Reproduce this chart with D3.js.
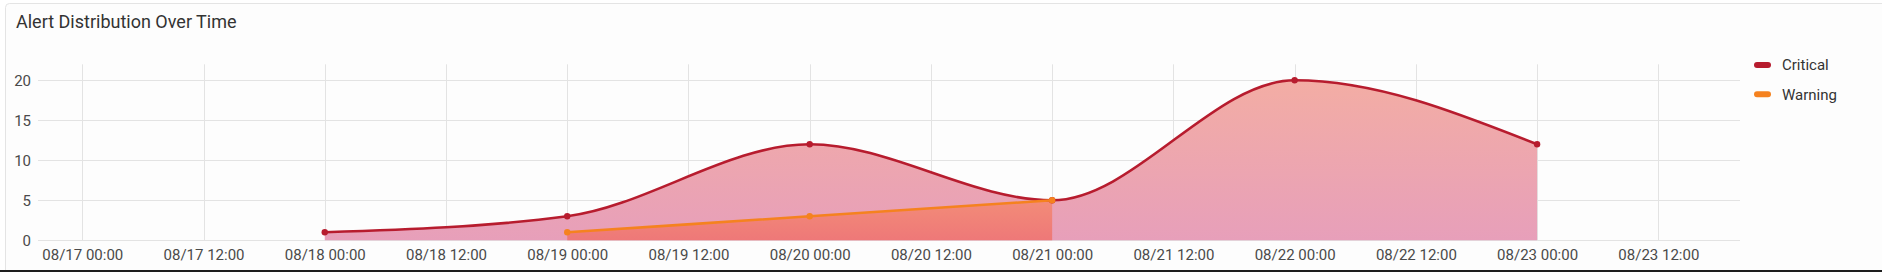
<!DOCTYPE html>
<html>
<head>
<meta charset="utf-8">
<script src="https://cdn.jsdelivr.net/npm/d3@7"></script>
<style>
	html, body { margin: 0; padding: 0; background: #ffffff; overflow: hidden; }
	#chart-placeholder { width: 1882px; height: 272px; }
	text { font-family: Roboto, "Noto Sans", sans-serif; }
</style>
</head>
<body>
<div id="chart-placeholder"></div>
<script>

let seriesNames = ["Critical", "Warning"];
let seriesColors = ["#b71c2e", "#f5821f"];
let criticalDates = ["2024-08-18 00:00", "2024-08-19 00:00", "2024-08-20 00:00", "2024-08-21 00:00", "2024-08-22 00:00", "2024-08-23 00:00"];
let criticalValues = [1, 3, 12, 5, 20, 12];
let warningDates = ["2024-08-19 00:00", "2024-08-20 00:00", "2024-08-21 00:00"];
let warningValues = [1, 3, 5];
let xDomain = ["2024-08-16 19:37", "2024-08-23 20:05"];
let xTicks = ["2024-08-17 00:00", "2024-08-17 12:00", "2024-08-18 00:00", "2024-08-18 12:00", "2024-08-19 00:00",
	"2024-08-19 12:00", "2024-08-20 00:00", "2024-08-20 12:00", "2024-08-21 00:00", "2024-08-21 12:00",
	"2024-08-22 00:00", "2024-08-22 12:00", "2024-08-23 00:00", "2024-08-23 12:00"];
let yTicks = [0, 5, 10, 15, 20];
let yMax = 22;

function drawAlertChart() {
	let parseTime = d3.timeParse("%Y-%m-%d %H:%M");
	let width = 1882;
	let height = 272;

	let svg = d3.select("#chart-placeholder")
		.append("svg")
		.attr("width", width)
		.attr("height", height);

	// card
	svg.append("rect")
		.attr("x", 5.5).attr("y", 3.5)
		.attr("width", width).attr("height", height)
		.attr("rx", 4)
		.attr("fill", "#fdfdfd")
		.attr("stroke", "#e4e4e4");

	svg.append("text")
		.attr("x", 16)
		.attr("y", 28)
		.attr("font-size", 18)
		.attr("fill", "#333")
		.text("Alert Distribution Over Time");

	let xScale = d3.scaleTime().range([38, 1740]).domain(xDomain.map(parseTime));
	let yScale = d3.scaleLinear().range([240.3, 64.3]).domain([0, yMax]);

	let defs = svg.append("defs");
	let gradCrit = defs.append("linearGradient").attr("id", "grad-critical")
		.attr("x1", 0).attr("y1", 0).attr("x2", 0).attr("y2", 1);
	gradCrit.append("stop").attr("offset", "0%").attr("stop-color", "#f3ada4");
	gradCrit.append("stop").attr("offset", "100%").attr("stop-color", "#e79fba");
	let gradWarn = defs.append("linearGradient").attr("id", "grad-warning")
		.attr("x1", 0).attr("y1", 0).attr("x2", 0).attr("y2", 1);
	gradWarn.append("stop").attr("offset", "0%").attr("stop-color", "#f38c78");
	gradWarn.append("stop").attr("offset", "100%").attr("stop-color", "#ee7878");

	// grid
	let grid = svg.append("g");
	grid.selectAll(".hgrid")
		.data(yTicks)
		.join("line")
		.attr("x1", 38).attr("x2", 1740)
		.attr("y1", d => Math.round(yScale(d)) + 0.5)
		.attr("y2", d => Math.round(yScale(d)) + 0.5)
		.attr("stroke", "#e3e3e3");
	grid.selectAll(".vgrid")
		.data(xTicks.map(parseTime))
		.join("line")
		.attr("x1", d => Math.round(xScale(d)) + 0.5)
		.attr("x2", d => Math.round(xScale(d)) + 0.5)
		.attr("y1", yScale(yMax)).attr("y2", yScale(0))
		.attr("stroke", "#e3e3e3");

	let yAxis = svg.append("g")
		.attr("transform", "translate(31, 0)")
		.call(d3.axisLeft(yScale).tickValues(yTicks).tickSize(0).tickPadding(0));
	yAxis.select(".domain").remove();
	yAxis.selectAll("text")
		.attr("font-size", 15)
		.attr("font-family", "Roboto")
		.attr("fill", "#4a4a4a");

	let xAxis = svg.append("g")
		.attr("transform", `translate(0, ${yScale(0)})`)
		.call(d3.axisBottom(xScale)
			.tickValues(xTicks.map(parseTime))
			.tickFormat(d3.timeFormat("%m/%d %H:%M"))
			.tickSize(0).tickPadding(9));
	xAxis.select(".domain").remove();
	xAxis.selectAll("text")
		.attr("font-size", 15)
		.attr("font-family", "Roboto")
		.attr("fill", "#4a4a4a");

	let series = [
		{ name: seriesNames[0], color: seriesColors[0], fill: "url(#grad-critical)",
			points: criticalDates.map((d, i) => [parseTime(d), criticalValues[i]]) },
		{ name: seriesNames[1], color: seriesColors[1], fill: "url(#grad-warning)",
			points: warningDates.map((d, i) => [parseTime(d), warningValues[i]]) }
	];

	let area = d3.area()
		.x(d => xScale(d[0]))
		.y0(yScale(0))
		.y1(d => yScale(d[1]))
		.curve(d3.curveMonotoneX);
	let line = d3.line()
		.x(d => xScale(d[0]))
		.y(d => yScale(d[1]))
		.curve(d3.curveMonotoneX);

	for (let s of series) {
		svg.append("path")
			.datum(s.points)
			.attr("d", area)
			.attr("fill", s.fill);
	}
	for (let s of series) {
		svg.append("path")
			.datum(s.points)
			.attr("d", line)
			.attr("fill", "none")
			.attr("stroke", s.color)
			.attr("stroke-width", 2.6);
		svg.append("g")
			.selectAll("circle")
			.data(s.points)
			.join("circle")
			.attr("cx", d => xScale(d[0]))
			.attr("cy", d => yScale(d[1]))
			.attr("r", 3.2)
			.attr("fill", s.color);
	}

	// legend
	let legend = svg.append("g").attr("transform", "translate(1754, 65)");
	series.forEach((s, i) => {
		let item = legend.append("g").attr("transform", `translate(0, ${i * 29.3})`);
		item.append("rect")
			.attr("x", 0).attr("y", -3)
			.attr("width", 17).attr("height", 6)
			.attr("rx", 3)
			.attr("fill", s.color);
		item.append("text")
			.attr("x", 28)
			.attr("y", 0)
			.attr("dy", "0.35em")
			.attr("font-size", 15)
			.attr("fill", "#333")
			.text(s.name);
	});

	// bottom edge of the page
	svg.append("rect")
		.attr("x", 0).attr("y", 270)
		.attr("width", width).attr("height", 2)
		.attr("fill", "#1e1e1e");
}

drawAlertChart();
</script>
</body>
</html>
